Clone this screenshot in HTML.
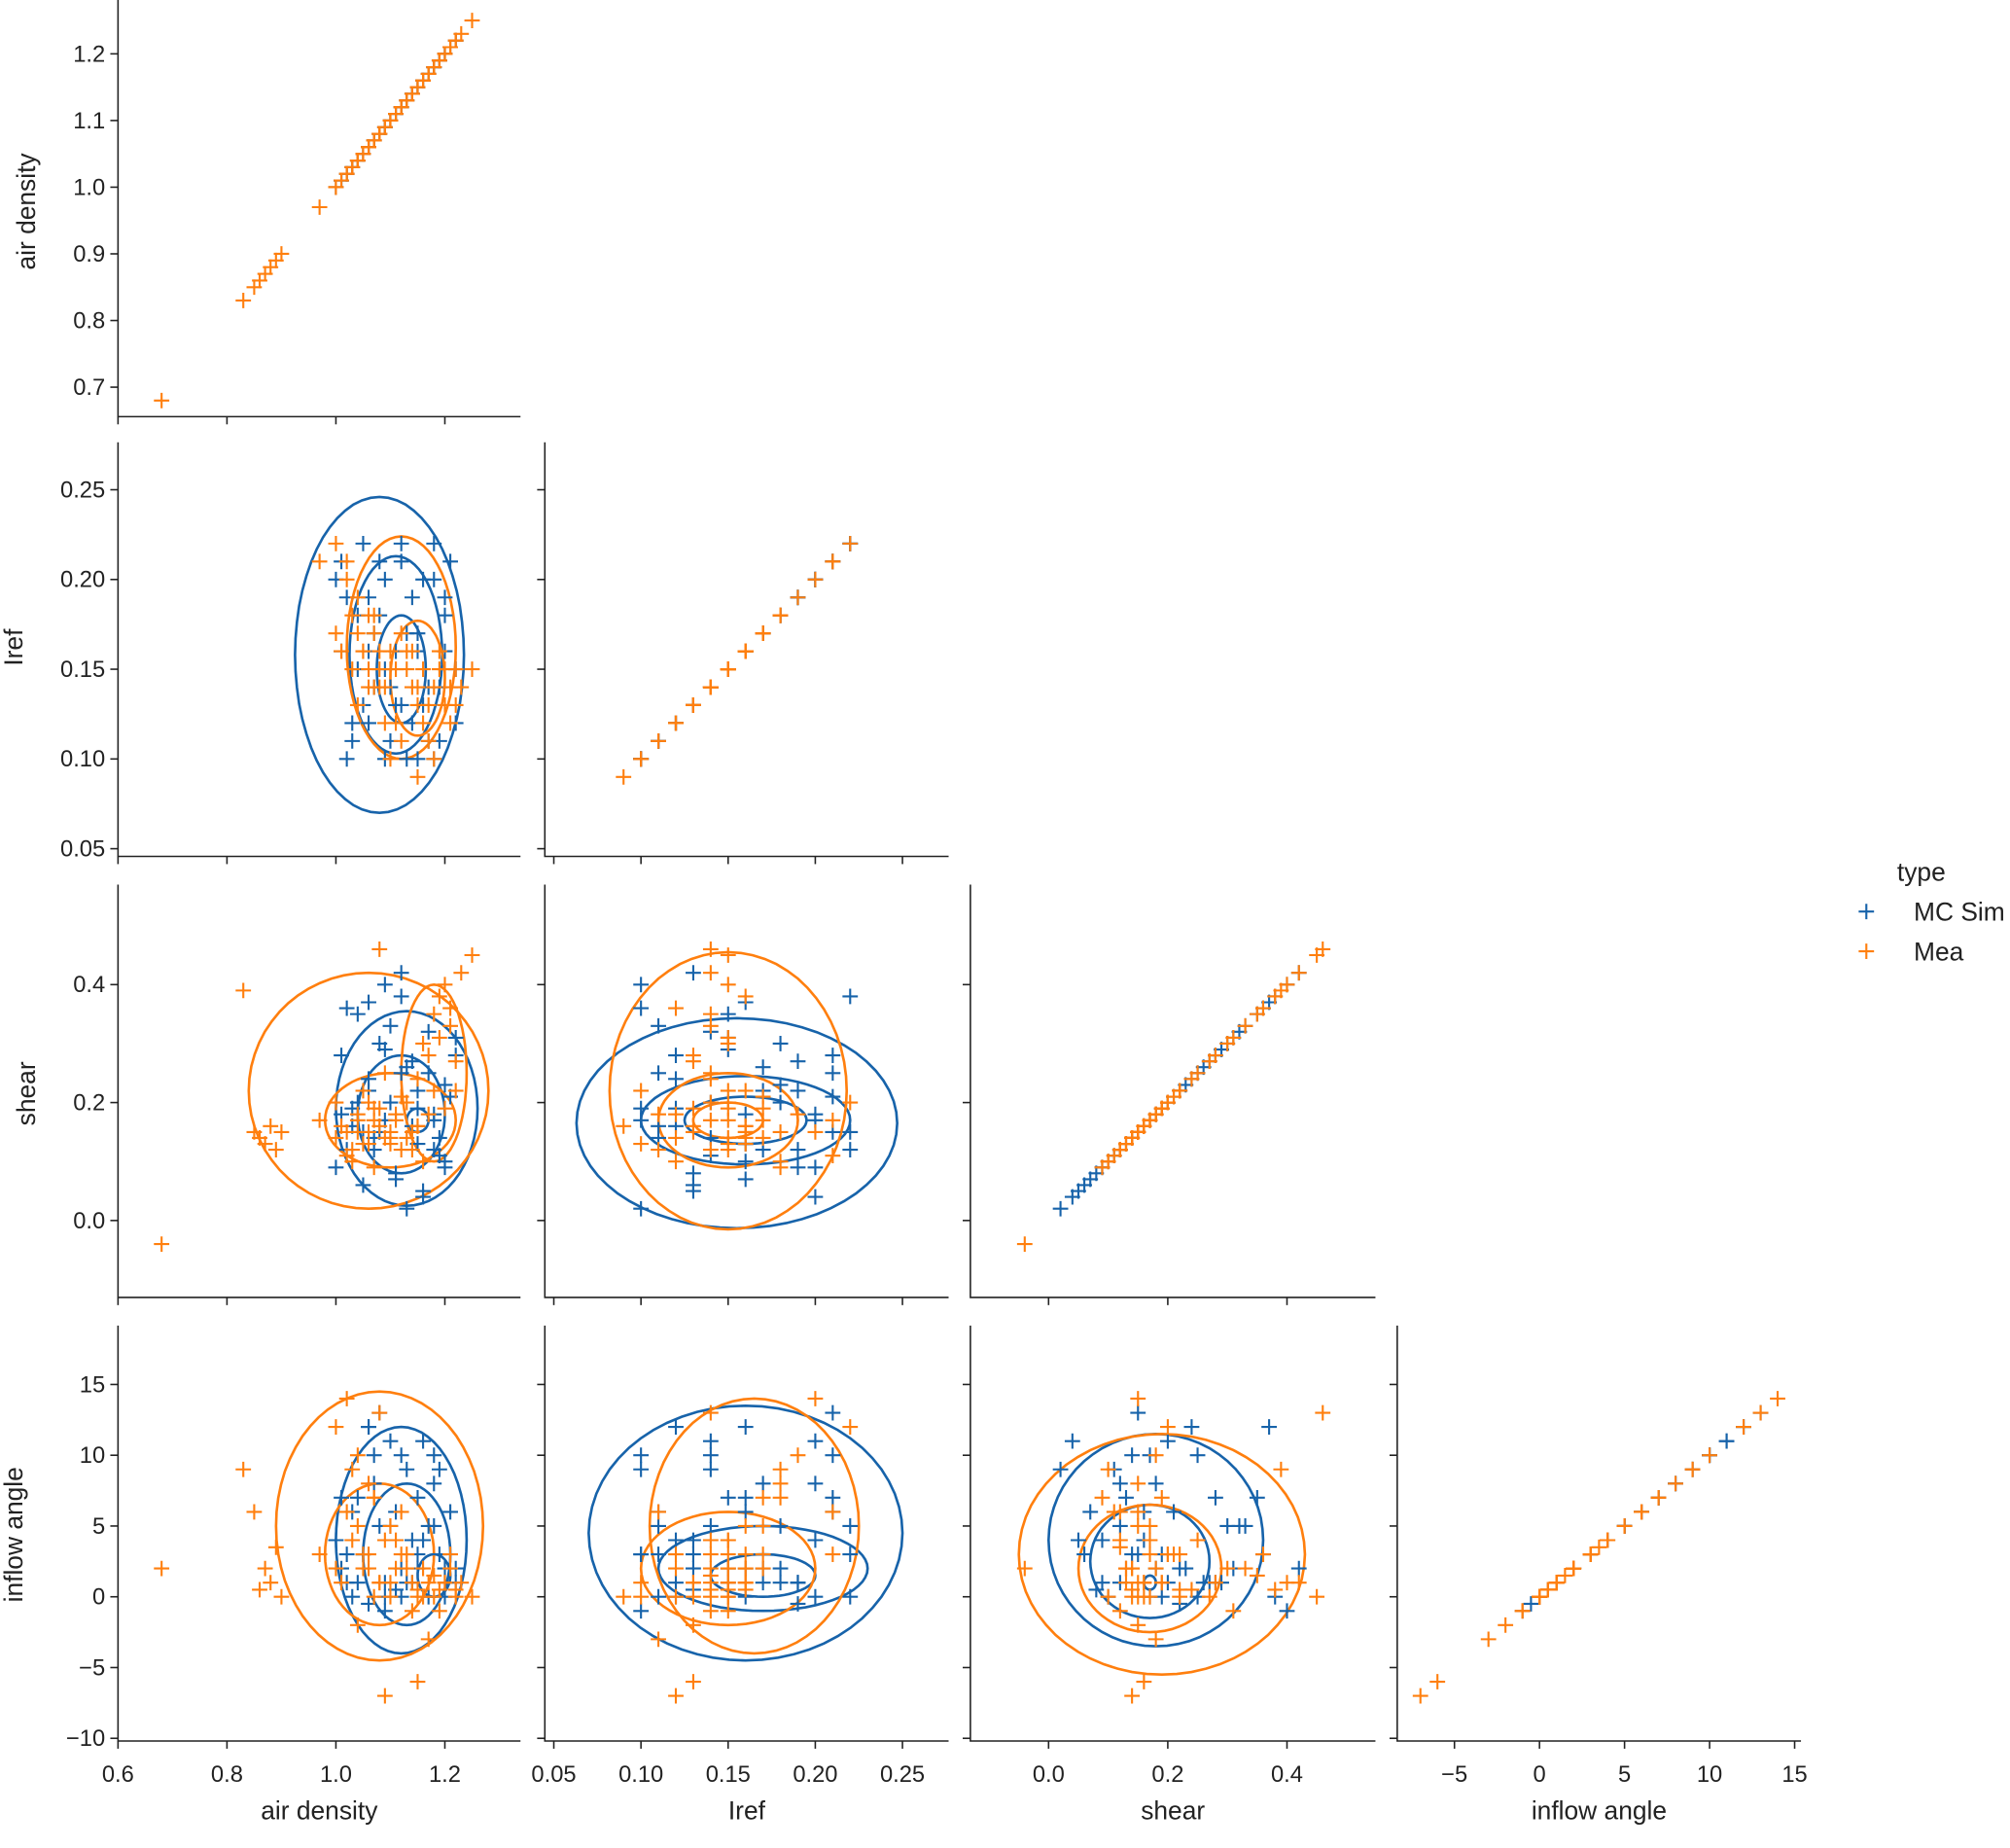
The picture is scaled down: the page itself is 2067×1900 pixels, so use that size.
<!DOCTYPE html>
<html><head><meta charset="utf-8"><style>
body{margin:0;background:#fff}
svg text{font-family:"Liberation Sans","DejaVu Sans",sans-serif;fill:#222}
</style></head><body>
<svg id="chart" width="2067" height="1877" viewBox="0 0 1568 1424" xmlns="http://www.w3.org/2000/svg"></svg>
<script>
// columns: [air density, Iref, shear, inflow angle]
const varNames = ["air density","Iref","shear","inflow angle"];
const mcSim = [[1.05,0.22,0.15,3],[1.12,0.21,0.25,10],[1.18,0.20,0.18,8],[1.02,0.19,0.12,1],[1.08,0.18,0.30,5],[1.15,0.17,0.22,2],[1.20,0.16,0.10,0],[1.04,0.15,0.35,7],[1.10,0.14,0.20,11],[1.16,0.13,0.05,4],[1.22,0.12,0.28,1],[1.03,0.11,0.16,6],[1.09,0.10,0.40,-1],[1.13,0.10,0.02,9],[1.19,0.11,0.14,3],[1.06,0.12,0.24,12],[1.11,0.13,0.08,0.5],[1.17,0.14,0.32,5],[1.01,0.16,0.18,2],[1.07,0.17,0.12,8],[1.14,0.19,0.27,1],[1.21,0.21,0.21,6],[1.00,0.20,0.09,4],[1.12,0.22,0.38,0],[1.18,0.10,0.17,10],[1.05,0.13,0.06,3],[1.09,0.15,0.29,1],[1.15,0.16,0.13,7],[1.20,0.18,0.23,2],[1.03,0.12,0.19,0],[1.10,0.11,0.33,5],[1.16,0.20,0.04,11],[1.08,0.21,0.15,13],[1.13,0.17,0.26,1],[1.19,0.14,0.11,9],[1.02,0.10,0.36,3],[1.06,0.19,0.22,-0.5],[1.14,0.12,0.16,4],[1.11,0.16,0.07,6],[1.22,0.15,0.31,2],[1.04,0.18,0.20,1],[1.17,0.11,0.25,0],[1.07,0.14,0.14,10],[1.12,0.13,0.42,2],[1.18,0.22,0.12,5],[1.01,0.21,0.28,7],[1.09,0.20,0.17,0],[1.15,0.10,0.19,3],[1.20,0.19,0.09,1],[1.06,0.16,0.37,12]];
const mea = [[0.68,null,-0.04,2],[0.83,null,0.39,9],[0.85,null,0.15,6],[0.86,null,0.14,0.5],[0.87,null,0.13,2],[0.88,null,0.16,1],[0.89,null,0.12,3.5],[0.90,null,0.15,0],[0.97,0.21,0.17,3],[1.00,0.22,0.20,12],[1.02,0.20,0.15,14],[1.03,0.18,0.10,9],[1.04,0.17,0.17,5],[1.05,0.16,0.22,3],[1.06,0.15,0.13,2],[1.07,0.17,0.19,7],[1.08,0.16,0.16,1],[1.09,0.14,0.25,4],[1.10,0.15,0.14,0],[1.11,0.12,0.18,2],[1.12,0.11,0.12,6],[1.13,0.15,0.20,3],[1.14,0.16,0.15,1],[1.15,0.14,0.24,0.5],[1.16,0.15,0.30,2],[1.17,0.13,0.28,1],[1.18,0.14,0.35,1.5],[1.19,0.16,0.38,0.5],[1.20,0.15,0.40,1],[1.21,0.14,0.33,2],[1.22,0.13,0.27,0],[1.23,0.14,0.42,1],[1.25,0.15,0.45,0],[1.21,0.12,0.36,3],[1.19,0.15,0.31,-1],[1.18,0.10,0.22,0],[1.17,0.11,0.18,-3],[1.15,0.13,0.16,-6],[1.09,0.12,0.14,-7],[1.06,0.18,0.15,8],[1.04,0.19,0.18,10],[1.03,0.15,0.12,4],[1.05,0.16,0.13,2],[1.07,0.14,0.17,0],[1.08,0.15,0.19,1],[1.10,0.16,0.15,5],[1.12,0.17,0.21,3],[1.02,0.21,0.11,6],[1.01,0.16,0.16,1],[1.00,0.17,0.14,2],[1.06,0.14,0.20,3],[1.11,0.15,0.17,4],[1.13,0.16,0.14,2],[1.14,0.14,0.12,-1],[1.16,0.12,0.10,0],[1.20,0.13,0.19,1],[1.22,0.15,0.22,0.5],[1.04,0.13,0.15,-2],[1.08,0.14,0.46,13],[1.07,0.18,0.09,7],[1.10,0.10,0.13,1],[1.15,0.09,0.16,0]];
const xTicks = [[0.6,0.8,1.0,1.2],[0.05,0.10,0.15,0.20,0.25],[0.0,0.2,0.4],[-5,0,5,10,15]];
const xTickLabels = [["0.6","0.8","1.0","1.2"],["0.05","0.10","0.15","0.20","0.25"],["0.0","0.2","0.4"],["−5","0","5","10","15"]];
const yTicks = [[0.7,0.8,0.9,1.0,1.1,1.2],[0.05,0.10,0.15,0.20,0.25],[0.0,0.2,0.4],[-10,-5,0,5,10,15]];
const yTickLabels = [["0.7","0.8","0.9","1.0","1.1","1.2"],["0.05","0.10","0.15","0.20","0.25"],["0.0","0.2","0.4"],["−10","−5","0","5","10","15"]];
// contours per panel key "row-col": [cx, cy, rx, ry] in data units
const contoursBlue = {"1-0":[[1.08,0.158,0.155,0.088],[1.11,0.158,0.085,0.055],[1.12,0.15,0.045,0.03]],
 "2-0":[[1.13,0.19,0.13,0.165],[1.12,0.18,0.08,0.10],[1.15,0.17,0.02,0.02]],
 "2-1":[[0.155,0.165,0.092,0.178],[0.16,0.17,0.06,0.075],[0.16,0.17,0.035,0.04]],
 "3-0":[[1.12,4,0.12,8],[1.13,3,0.08,5],[1.18,1.5,0.03,1.5]],
 "3-1":[[0.16,4.5,0.09,9],[0.17,2,0.06,3],[0.17,1.5,0.03,1.5]],
 "3-2":[[0.18,4,0.18,7.5],[0.17,2.5,0.1,4],[0.17,1,0.01,0.5]]};
const contoursOrange = {"1-0":[[1.12,0.162,0.10,0.062],[1.15,0.145,0.05,0.032]],
 "2-0":[[1.06,0.22,0.22,0.2],[1.18,0.25,0.06,0.15],[1.1,0.17,0.12,0.08]],
 "2-1":[[0.15,0.22,0.068,0.235],[0.15,0.17,0.04,0.08],[0.15,0.17,0.02,0.03]],
 "3-0":[[1.08,5,0.19,9.5],[1.08,3,0.1,5]],
 "3-1":[[0.165,5,0.06,9],[0.15,2,0.05,4]],
 "3-2":[[0.19,3,0.24,8.5],[0.17,2,0.12,4.5]]};

const NS="http://www.w3.org/2000/svg";
const svg=document.getElementById('chart');
const BLUE="#1763aa", ORANGE="#ff7f0e";
const colX=[[92,406],[425,740],[757,1073],[1090,1405]];
const rowY=[[0,325],[345,668],[690,1012],[1034,1358]];
// scale params: value -> pixel
const xs=[v=>92+(v-0.6)*425, v=>432+(v-0.05)*1360, v=>818+v*465, v=>1201+v*13.27];
const ys=[v=>42+(1.2-v)*520, v=>382+(0.25-v)*1400, v=>952-v*460, v=>1245.5-v*11.04];
function el(tag,attrs,parent){const e=document.createElementNS(NS,tag);for(const k in attrs)e.setAttribute(k,attrs[k]);(parent||svg).appendChild(e);return e;}
function plus(g,x,y,c){el('path',{d:`M${x-6} ${y}h12M${x} ${y-6}v12`,stroke:c,'stroke-width':1.6,fill:'none'},g);}
function ellipse(g,sx,sy,e,c){let d='';for(let i=0;i<=60;i++){const t=i/60*2*Math.PI;const px=sx(e[0]+e[2]*Math.cos(t)),py=sy(e[1]+e[3]*Math.sin(t));d+=(i?'L':'M')+px.toFixed(1)+' '+py.toFixed(1);}el('path',{d:d+'Z',stroke:c,'stroke-width':2,fill:'none'},g);}
for(let r=0;r<4;r++){for(let c=0;c<=r;c++){
  const g=el('g',{});
  
  
  const [x0,x1]=colX[c],[y0,y1]=rowY[r];
  el('path',{d:`M${x0} ${y0}V${y1}H${x1}`,stroke:'#222','stroke-width':1.2,fill:'none'},g);
  xTicks[c].forEach((t,i)=>{const x=xs[c](t);el('line',{x1:x,x2:x,y1:y1,y2:y1+6,stroke:'#222','stroke-width':1.2},g);
    if(r===3){const tx=el('text',{x:x,y:y1+32,'font-size':18,'text-anchor':'middle'},g);tx.textContent=xTickLabels[c][i];}});
  yTicks[r].forEach((t,i)=>{const y=ys[r](t);el('line',{x1:x0-6,x2:x0,y1:y,y2:y,stroke:'#222','stroke-width':1.2},g);
    if(c===0){const tx=el('text',{x:x0-10,y:y+6,'font-size':18,'text-anchor':'end'},g);tx.textContent=yTickLabels[r][i];}});
  const key=r+'-'+c;
  (contoursBlue[key]||[]).forEach(e=>ellipse(g,xs[c],ys[r],e,BLUE));
  (contoursOrange[key]||[]).forEach(e=>ellipse(g,xs[c],ys[r],e,ORANGE));
  [[mcSim,BLUE],[mea,ORANGE]].forEach(([data,col])=>data.forEach(d=>{const vx=d[c],vy=d[r];if(vx==null||vy==null)return;plus(g,xs[c](vx),ys[r](vy),col);}));
}}
// axis labels
const ylabelPos=[[22,165],[12,505],[22,853],[12,1197]];
varNames.forEach((n,i)=>{
  const t=el('text',{x:ylabelPos[i][0],y:ylabelPos[i][1],'font-size':20,'text-anchor':'middle',transform:`rotate(-90 ${ylabelPos[i][0]} ${ylabelPos[i][1]})`,'dominant-baseline':'middle'});
  t.textContent=n;
  const b=el('text',{x:(colX[i][0]+colX[i][1])/2,y:1419,'font-size':20,'text-anchor':'middle'});
  b.textContent=n;
});
</script>
<svg width="0" height="0"></svg>
<div style="position:absolute;left:0;top:0">
<svg width="2067" height="1877" viewBox="0 0 1568 1424" style="position:absolute;left:0;top:0;pointer-events:none">
<text x="1480" y="687" font-size="20">type</text>
<path d="M1450 711h12M1456 705v12" stroke="#1763aa" stroke-width="1.6"/>
<text x="1493" y="718" font-size="20">MC Sim</text>
<path d="M1450 742h12M1456 736v12" stroke="#ff7f0e" stroke-width="1.6"/>
<text x="1493" y="749" font-size="20">Mea</text>
</svg></div>
</body></html>
